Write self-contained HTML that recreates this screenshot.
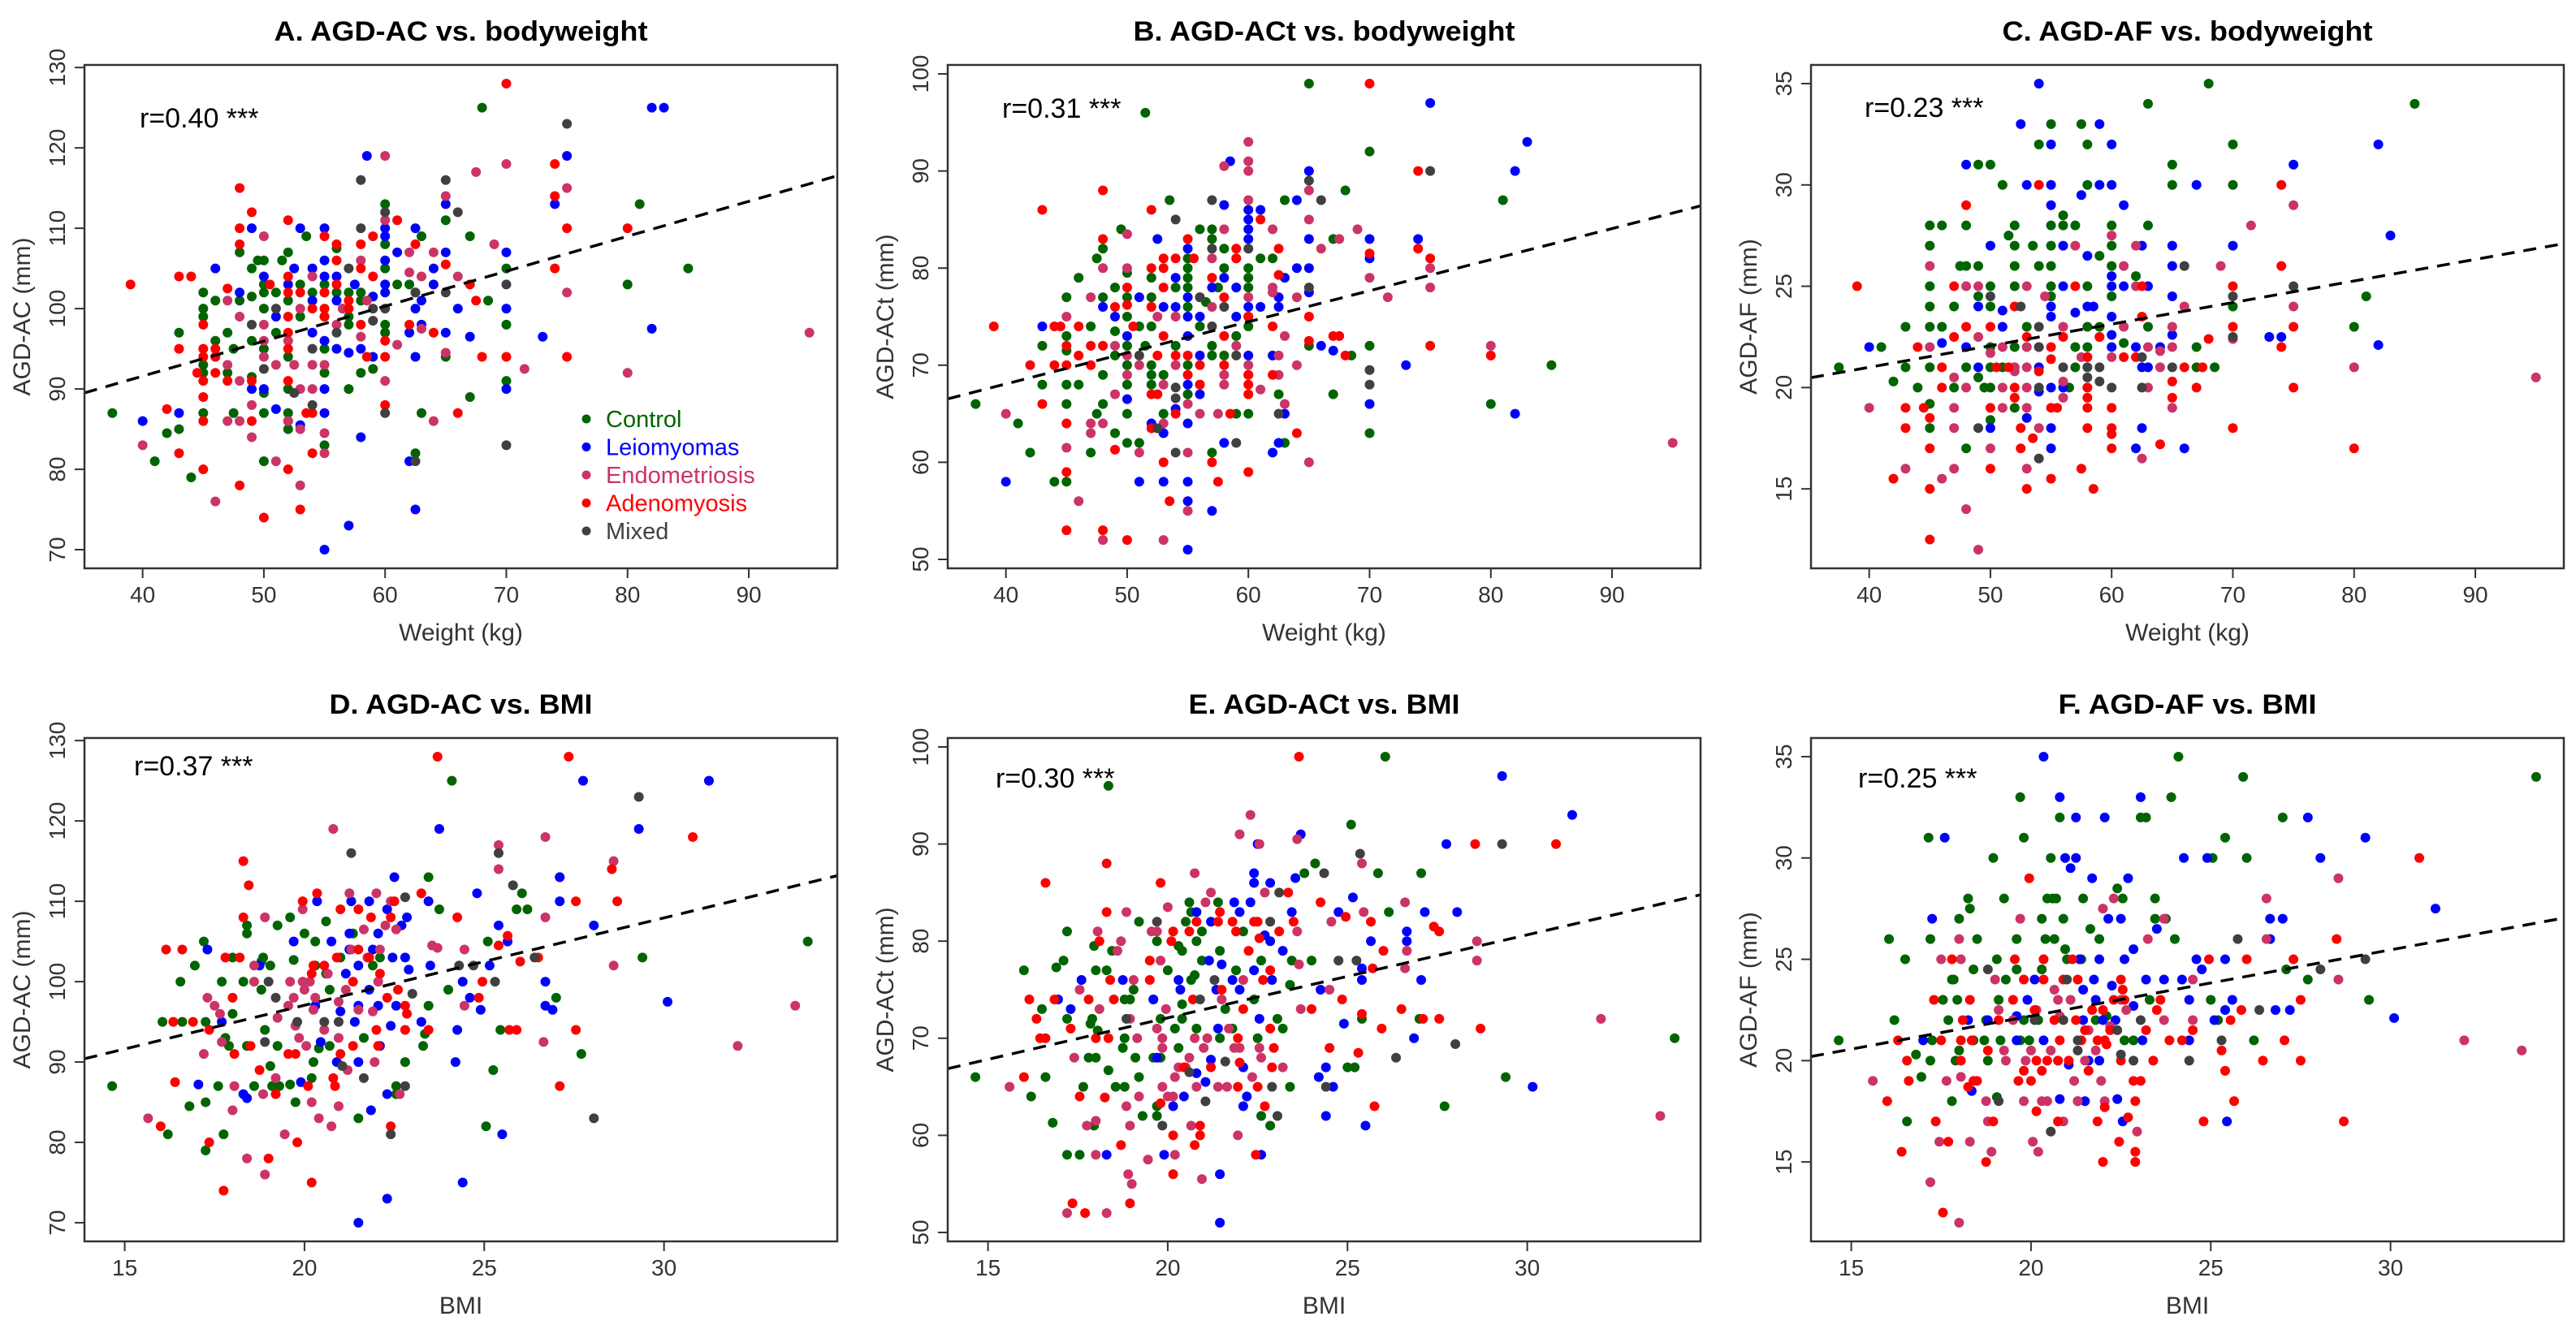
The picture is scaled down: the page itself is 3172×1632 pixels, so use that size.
<!DOCTYPE html>
<html><head><meta charset="utf-8">
<style>
html,body{margin:0;padding:0;background:#fff;}
svg{display:block;font-family:"Liberation Sans",Arial,sans-serif;}
</style></head>
<body>
<svg id="fig" width="3172" height="1632" viewBox="0 0 3172 1632" xmlns="http://www.w3.org/2000/svg"></svg>
<script>
// ---------- DATA ----------
const groupNames = ["Control","Leiomyomas","Endometriosis","Adenomyosis","Mixed"];
const groupColors = ["#006400","#0000ff","#cc3366","#ff0000","#404040"];

const weightTicks = [40,50,60,70,80,90];
const bmiTicks = [15,20,25,30];
const acTicks = [70,80,90,100,110,120,130];
const actTicks = [50,60,70,80,90,100];
const afTicks = [15,20,25,30,35];

const rLabels = ["r=0.40 ***","r=0.31 ***","r=0.23 ***","r=0.37 ***","r=0.30 ***","r=0.25 ***"];
const fitA=[74.2,0.435], fitB=[55.27,0.32], fitC=[16.74,0.1065], fitD=[75.3,1.088], fitE=[55.0,0.855], fitF=[15.67,0.3265];

// Panel A: weight vs AGD-AC
const aControl=[[37.5,87],[41,81],[42,84.5],[43,85],[43,97],[44,79],[45,102],[45,100],[45,99],[45,93],[45,92],[45,87],[46,101],[46,96],[47,97],[47,92],[47.5,87],[47.5,95],[48,107],[48,101],[49,105],[49,101.5],[49,96],[49,91.5],[49.5,106],[50,106],[50,103],[50,102],[50,100],[50,95],[50,89.5],[50,87],[50,81],[51,102],[51,97],[51.5,106],[52,107],[52,101],[52,94],[52,90],[52,87],[52,86],[52,85],[53,103],[53,99],[53.5,109],[54,102],[55,103],[55,102],[55,99],[55,95],[55,92],[55,83],[56,107.5],[56,102],[56.5,100],[57,102],[57,99],[57,98],[57,90],[58,102],[58,101],[58,92],[59,92.5],[60,113],[60,108],[60,105],[60,97],[60,98],[61,103],[62,103],[62.5,82],[63,109],[63,87],[65,111],[65,94],[67,109],[67,89],[68.5,101],[68,125],[70,105],[70,98],[70,91],[81,113],[85,105],[80,103]];
const aLeio=[[40,86],[43,87],[46,105],[48,102],[49,110],[49,90],[50,104],[50,90],[51,87.5],[51,99],[52,103],[52.5,105],[53,110],[53,85.5],[54,105],[54,101],[54,97],[55,110],[55,106],[55,104],[55,96],[55,90],[55,87],[55,70],[56,104],[56,101],[56,95],[57,73],[57,94.5],[57.5,103],[58,95],[58,84],[58.5,119],[59,101.5],[59,94],[60,110],[60,109],[60,106],[60,103],[60,102],[61,107],[62,81],[62,97],[62.5,110],[62.5,100],[62.5,94],[62.5,75],[63,101],[63,98],[64,103],[64,105],[65,113],[65,107],[65,97],[66,100],[67,96.5],[70,107],[70,100],[70,90],[73,96.5],[74,113],[75,119],[82,125],[83,125],[82,97.5]];
const aEndo=[[40,83],[46,76],[46,94],[47,101],[47,86],[47,93],[48,99],[48,86],[48,91],[49,88],[49,84],[50,109],[50,98],[50,96],[50,94],[51,81],[51,93],[52,86],[52,96],[52.5,93],[53,78],[53,90],[53,85],[53,100],[54,104],[54,93],[54,90],[55,82],[55,84.5],[55,93],[56,98],[56.5,100],[58,106],[58,96.5],[58.5,101],[60,119],[60,111],[60,91],[61,95.5],[62,107],[62,104.5],[63,104],[63,97.5],[64,86],[64,107],[65,114],[65,94.5],[66,104],[67.5,117],[69,108],[70,118],[71.5,92.5],[75,115],[75,102],[80,92],[95,97]];
const aAdeno=[[39,103],[42,87.5],[43,104],[43,95],[43,82],[44,104],[44.5,92],[45,98],[45,95],[45,94],[45,91],[45,89],[45,86],[45,80],[46,95],[46,94],[46,92],[47,102.5],[47,91],[48,115],[48,110],[48,108],[48,78],[49,112],[49,86],[49,91],[50,74],[50.5,103],[52,111],[52,104],[52,102],[52,99],[52,97],[52,95],[52,91],[52,80],[53,102],[53,75],[53.5,87],[54,100],[54,82],[54,87],[55,109],[55,100],[55,99],[55,102],[56,108],[56,106],[56,103],[57,101],[57,100],[58,108],[58,105],[58,98],[58.5,94],[59,109],[59,104],[60,94],[60,88],[60,96],[61,111],[62,98],[62.5,108],[62.5,102],[64,97],[65,105.5],[66,87],[67,103],[67.5,101],[68,94],[70,128],[70,94],[74,118],[74,114],[74,105],[75,110],[75,94],[80,110]];
const aMixed=[[49,98],[50,92.5],[51,100],[52.5,89.5],[54,95],[54,88],[56,97],[57,105],[58,116],[58,110],[59,100],[59,98.5],[60,100],[60,87],[60,112],[62.5,81],[62.5,102],[65,116],[65,102],[66,112],[70,103],[70,83],[75,123]];

// Panel B: weight vs AGD-ACt
const bControl=[[37.5,66],[41,64],[42,61],[44,58],[43,72],[43,68],[45,77],[45,73],[45,71.5],[45,68],[45,66],[45,58],[46,79],[46,68],[47,74],[47,61],[47.5,81],[47.5,65],[48,82],[48,77],[48,69],[48,66],[49,78],[49,73.5],[49,71],[49,63],[49.5,84],[50,79.5],[50,77],[50,75],[50,72],[50,70],[50,68],[50,65],[50,62],[51,74],[51,62],[51.5,72],[51.5,96],[52,77],[52,79],[52,74],[52,70],[52,69],[52,68],[53,69],[53,65],[53.5,87],[54,78],[54,72],[55,81],[55,80],[55,79],[55,78],[55,76],[55,70],[55,67],[56,84],[56,74],[56.5,76.5],[57,84],[57,83],[57,72],[57,71],[57,61],[57.5,78],[58,82],[58,80],[58,71],[59,73],[59,65],[60,80],[60,79],[60,78],[60,75],[60,74],[60,65],[61,81],[62,81],[62.5,67],[63,87],[63,62],[65,99],[65,72],[67,83],[67,67],[68,88],[68.5,71],[70,92],[70,72],[70,63],[80,66],[81,87],[85,70]];
const bLeio=[[40,58],[43,74],[48,76],[49,75],[50,73],[50,66.5],[51,77],[51,58],[52,64],[52.5,83],[53,76],[53,63],[53,58],[54,79],[54,76],[54,65.5],[55,82],[55,77],[55,75],[55,73],[55,68],[55,64],[55,58],[55,56],[55,51],[56,75],[56,71],[56,67],[57,55],[57,78],[58,79],[58,86.5],[58,62],[58.5,91],[59,78],[59,75],[60,86],[60,85],[60,84],[60,83],[60,76],[60,71],[61,86],[61,76],[62,71],[62,61],[62.5,77],[62.5,76],[62.5,62],[63,65],[63,79],[64,87],[64,80],[65,90],[65,83],[65,80],[65,77.5],[66,72],[67,71.5],[70,83],[70,81],[70,66],[73,70],[74,83],[75,97],[82,90],[82,65],[83,93]];
const bEndo=[[40,65],[45,75],[45,61.5],[46,56],[47,77],[47,64],[47,63],[48,80],[48,64],[48,52],[49,72],[49,67],[50,83.5],[50,80],[50,71],[50,69],[51,61],[51,70],[52,76],[52.5,75],[53,68],[53,64],[53,52],[54,75],[54,70],[55,61],[55,55],[55,66],[56,77],[56,65],[56,68],[57,81],[57,76],[57.5,65],[58,69],[58,68],[58,84],[58,90.5],[59,81],[59,72],[60,93],[60,91],[60,90],[60,87],[60,77],[60,70],[60,69],[61,67.5],[62,84],[62,78],[62,77.5],[62.5,71],[62.5,69],[63,66],[63,73],[64,77],[64,70],[65,88],[65,85],[65,60],[66,82],[67.5,83],[69,84],[70,79],[71.5,77],[75,80],[75,78],[80,72],[95,62]];
const bAdeno=[[39,74],[42,70],[43,86],[43,66],[44,74],[44,70],[44.5,74],[45,72],[45,70],[45,64],[45,59],[45,53],[46,74],[46,71],[47,72],[47,70],[48,88],[48,83],[48,72],[48,53],[49,76],[49,61.3],[50,78],[50,76.2],[50,52],[50.5,74],[52,86],[52,80],[52,76],[52,67],[52,63.5],[52.5,71],[52.5,67],[53,81],[53,80],[53,78],[53,73],[53,60],[53.5,56],[54,81],[54,71],[54,65],[55,83],[55,71],[55,69],[55.5,81],[56,70],[56,68],[57,79],[57,60],[57.5,58],[58,77],[58,73],[58,70],[59,82],[59,81],[58.5,65],[60,75],[60,69],[60,68],[60,67],[60,59],[61,85],[62,74],[62,69],[62.5,82],[62.5,79.3],[64,63],[65,75],[65,72.5],[67,73],[67.5,73],[68,71],[70,99],[70,81.5],[74,90],[74,82],[75,81],[75,72],[80,71]];
const bMixed=[[51,71],[52.5,63.5],[54,85],[54,67.7],[54,66.6],[54,61],[56,77],[57,87],[57,82],[57,74],[58,76],[59,71],[59,62],[60,82],[62.5,65],[65,89],[65,78],[66,87],[70,69.5],[70,68],[75,90]];

// Panel C: weight vs AGD-AF
const cControl=[[37.5,21],[41,22],[42,20.3],[43,23],[43,21],[44,20],[45,28],[45,27],[45,25],[45,24],[45,23],[45,21],[45,19.2],[45,18],[46,28],[46,23],[47,24],[47,20],[47.5,26],[48,28],[48,26],[48,21],[48,17],[49,31],[49,26],[49,24.5],[49,20.5],[49.5,20],[50,31],[50,25],[50,24],[50,22],[50,21],[50,20],[50,18.4],[51,30],[51,21],[51.5,27.5],[52,28],[52,27],[52,26],[52,25],[52,22],[52,21],[52,19],[53,23],[53,22],[53.5,27],[54,32],[54,26],[55,33],[55,28],[55,27],[55,26],[55,25],[55,24.5],[56,28.5],[56,28],[56.5,20],[57,28],[57,22],[57,21],[57.5,33],[58,32],[58,30],[58,25],[58,23],[58,22],[59,26.5],[59,23],[60,28],[60,27],[60,26],[60,24.5],[61,22.2],[62,25.5],[63,34],[63,28],[63,23],[65,31],[65,30],[67,22],[67,21],[68,35],[68.5,21],[70,32],[70,30],[70,24],[80,23],[81,24.5],[85,34]];
const cLeio=[[40,22],[46,22.2],[48,31],[48,22],[49,24],[49,21],[50,27],[50,18],[51,23],[51,23.8],[52.5,33],[53,30],[53,18.5],[54,35],[54,21],[54,19.8],[55,32],[55,30],[55,29],[55,24],[55,23.5],[55,20],[55,18],[55,17],[56,27],[56,25],[56,20],[57,23.7],[57.5,29.5],[58,26.5],[58,24],[58.5,24],[59,33],[59,30],[60,32],[60,30],[60,25],[60,25.5],[60,23.5],[60,22.6],[60,22],[61,29],[61,25],[62,22],[62.5,27],[62.5,21],[62.5,18],[63,25],[63,21],[62,17],[64,22],[65,26],[65,27],[65,24.5],[65,22.6],[66,17],[67,30],[70,27],[73,22.5],[74,22.5],[75,31],[82,32],[82,22.1],[83,27.5]];
const cEndo=[[40,19],[43,16],[45,26],[45,22],[46,15.5],[47,20.5],[47,19],[47,18],[47,16],[48,25],[48,20],[48,14],[49,22.5],[49,25],[49,12],[50,21.7],[50,17],[51,22],[51,20],[51,19],[52,21],[52,20.8],[53,25],[53,22],[53,21],[53,20],[53,19],[53,16],[54,22],[54,18],[54.5,24.5],[56,23],[56,20.3],[56,19.5],[57,27],[57.5,21.5],[58,20],[58,21.5],[59,22.5],[60,27.5],[60,21.5],[61,26],[61,23],[62,27],[62,25],[62.5,16.5],[63,22],[63,20],[64,21.8],[64,21],[65,23],[65,22],[65,19],[66,24],[69,26],[70,22.4],[71.5,28],[75,29],[75,24],[80,21],[95,20.5]];
const cAdeno=[[39,25],[42,15.5],[43,19],[43,18],[44,22],[44.5,19],[45,18.5],[45,17],[45,15],[45,12.5],[46,21],[46,20],[47,25],[47,22.5],[48,29],[48,23],[50,23],[50,19],[50,16],[50.5,21],[51.5,21],[52,24],[52,20],[52,19.5],[52.5,18],[52.5,17],[53,22.5],[53,15],[53.5,17.5],[54,30],[54,20.8],[55,22],[55,21.4],[55,19],[55,15.5],[55.5,19],[56,22.5],[57,25],[57.5,16],[58,21.5],[58,20],[58,19.5],[58,19],[58,18],[58.5,15],[59,22.5],[60,19],[60,18],[60,17.7],[60,17],[61,21.5],[62,21.5],[62.5,25],[62.5,23.5],[64,17.2],[65,20.3],[65,19.5],[66,21],[67,20],[67.5,21],[68,22.4],[70,25],[70,23],[70,18],[74,30],[74,26],[74,22],[75,23],[75,20],[80,17]];
const cMixed=[[49,18],[50,24.5],[52.5,24],[54,23],[54,22],[54,16.5],[54,20],[56,21],[58,21],[58,20.5],[59,21],[59,20.3],[60,20],[62.5,21.5],[62.5,20],[65,21],[66,26],[70,24.5],[70,22.5],[75,25]];

// Panel D: BMI vs AGD-AC
const dControl=[[14.65,87],[16.05,95],[16.2,81],[16.55,100],[16.6,95],[16.8,84.5],[16.95,102],[17.2,105],[17.25,85],[17.25,79],[17.25,95],[17.6,87],[17.7,100],[17.75,81],[17.8,93],[17.9,92],[18,103],[18,96],[18.3,100],[18.4,106],[18.4,107],[18.4,92],[18.6,87],[18.8,102.5],[18.8,99],[18.85,103],[18.9,94],[19.05,89.5],[19.05,102],[19.1,87],[19.25,107],[19.25,92],[19.3,87],[19.6,87.2],[19.6,108],[19.7,102.7],[19.75,85],[20,106],[20.2,88],[20.25,90],[20.3,105],[20.3,102],[20.4,91.7],[20.6,107.5],[20.6,101],[20.7,92],[20.7,99],[21,103],[21.35,106],[21.5,83],[21.65,93],[21.9,102],[22.1,103],[22.55,87],[22.55,86],[22.8,90],[23.3,92],[23.35,93.5],[23.45,113],[23.45,97],[23.75,109],[24,99],[24.1,125],[25.05,82],[25.1,105],[25.25,89],[25.45,94],[25.9,109],[26.05,111],[26.2,109],[27,98],[27.1,113],[27.7,91],[29.4,103],[34,105]];
const dLeio=[[17.05,87.2],[17.3,104],[17.7,95],[18.3,86],[18.4,85.5],[18.75,102],[19.7,105],[19.9,87.5],[20.3,97],[20.35,110],[20.45,92.5],[20.75,105],[20.9,90],[21,96.3],[21.15,101],[21.25,106],[21.25,104],[21.3,110],[21.4,95],[21.5,90],[21.5,70],[21.5,102],[21.5,97],[21.8,99],[21.85,84],[21.9,104],[21.8,110],[22.05,106],[22.05,97],[22.1,92],[22.3,86],[22.3,73],[22.3,109],[22.4,94.5],[22.45,103],[22.5,113],[22.55,97],[22.7,107],[22.8,103],[22.85,108],[22.9,101.5],[23.25,95],[23.45,110],[23.5,102],[23.75,119],[24.2,90],[24.25,94],[24.4,100],[24.4,75],[24.6,98],[24.8,111],[24.9,96.5],[25.15,102],[25.4,107],[25.5,81],[25.65,105],[26.7,100],[26.7,97],[26.9,96.5],[27.1,113],[27.1,110],[27.75,125],[28.05,107],[29.3,119],[30.1,97.5],[31.25,125]];
const dEndo=[[15.65,83],[17.2,91],[17.3,98],[17.5,97],[17.65,96],[17.7,92.5],[18,84],[18.05,87],[18.4,78],[18.6,102],[18.6,100],[18.85,86],[18.9,108],[18.9,76],[19.2,88],[19.25,95.5],[19.45,81],[19.55,97],[19.6,100],[19.7,98],[19.75,94.5],[19.85,93],[19.95,100],[19.95,109],[20,99],[20.05,92],[20.15,100],[20.2,85],[20.25,96.5],[20.3,98],[20.4,83],[20.55,94],[20.65,101],[20.75,82],[20.8,119],[20.95,84.5],[20.95,93],[20.95,97.5],[21.15,99],[21.2,89],[21.25,111],[21.3,104],[21.5,96.5],[21.65,106.5],[21.75,103],[21.9,96.3],[21.95,90],[22,111],[22.05,100],[22.1,104],[22.25,107],[22.4,110],[22.55,106.5],[22.65,86],[23.55,104.5],[23.7,104.2],[24.45,104],[24.45,97],[25.4,117],[25.4,114],[26.65,92.5],[26.7,108],[26.7,118],[28.6,115],[28.6,102],[32.05,92],[33.65,97]];
const dAdeno=[[16,82],[16.15,104],[16.35,95],[16.4,87.5],[16.6,104],[16.9,95],[17.35,80],[17.35,94],[17.75,74],[17.8,103],[18,98],[18.05,91],[18.2,103],[18.3,108],[18.3,115],[18.45,112],[18.5,92],[18.75,89],[19,78],[19.2,86],[19.55,91],[19.75,91],[19.8,80],[19.95,110],[20.1,87],[20.2,75],[20.2,101],[20.25,102],[20.35,111],[20.55,102],[20.8,88],[20.85,87],[20.9,103],[21,109],[21,91],[21.35,92],[21.35,100],[21.5,104],[21.5,109],[21.85,108],[21.8,103],[22,94],[22.05,92],[22.1,101],[22.3,98],[22.4,82],[22.4,108],[22.5,110],[22.6,99],[22.8,97],[22.8,94],[22.85,96],[23.25,111],[23.45,94],[23.7,128],[24.25,108],[24.85,98],[24.95,100],[25.4,104.5],[25.65,105.7],[25.7,94],[25.9,94],[26,102.5],[26.5,103],[27.1,87],[27.35,128],[27.55,94],[27.55,110],[28.55,114],[28.7,110],[30.8,118]];
const dMixed=[[18.9,92.5],[19,100],[19.2,98],[19.8,95],[20.55,95],[20.95,95],[21.05,89.5],[21.3,116],[21.65,88],[22.4,81],[22.8,87],[22.8,110.5],[23,98.5],[24.3,102],[24.7,102],[25.3,100],[25.4,116],[25.8,112],[26.4,103],[28.05,83],[29.3,123]];

// Panel E: BMI vs AGD-ACt
const eControl=[[14.65,66],[16,77],[16.2,64],[16.5,73],[16.6,66],[16.8,61.3],[16.9,77.3],[17.1,78],[17.2,81],[17.2,72],[17.2,58],[17.55,58],[17.65,65],[17.8,68],[17.85,71.5],[17.9,72],[17.95,79.5],[17.95,61],[18,68],[18,77],[18.05,70.8],[18.3,77],[18.35,66.7],[18.35,96],[18.45,79],[18.55,65],[18.75,69],[18.8,65],[18.8,74],[18.8,70],[18.95,74],[19.05,75],[19.1,68],[19.2,82],[19.2,66],[19.3,62],[19.6,74],[19.6,68],[19.7,63],[19.7,62],[19.7,80],[19.8,68],[19.8,72],[20,77],[20.2,71],[20.3,79.5],[20.3,69],[20.4,79],[20.4,73.5],[20.4,72],[20.5,82],[20.6,84],[20.65,76],[20.65,83],[20.75,76.5],[20.8,80],[20.8,71],[20.95,81],[20.95,78],[21.4,84],[21.45,79],[21.45,70],[21.6,73],[21.8,71],[21.9,77],[22.1,81],[22.4,74],[22.5,70],[22.6,78],[22.6,62],[22.85,61],[23.05,72],[23.2,71],[23.4,75.5],[23.4,65],[23.45,78],[23.8,87],[24,78],[24.1,88],[25.1,92],[25,67],[25.2,67],[25.4,72],[25.85,87],[26.05,99],[26.15,83],[27.05,87],[27,72],[27.7,63],[29.4,66],[34.1,70]];
const eLeio=[[16.95,74],[17.3,73],[17.6,76],[18.3,58],[18.75,76],[19.6,74],[19.7,68],[19.9,58],[20.15,63],[20.3,76],[20.35,75],[20.45,64],[20.8,66.4],[20.8,83],[21.05,65.5],[21.15,78],[21.2,67.8],[21.2,82],[21.35,75],[21.4,71],[21.45,56],[21.45,51],[21.5,77.6],[21.8,76],[21.85,84],[22,83],[22,75],[22.1,67],[22.1,63],[22.2,64],[22.3,84],[22.4,87],[22.4,86],[22.4,77],[22.5,90],[22.55,72],[22.6,58],[22.7,80.6],[22.85,80],[22.85,86],[22.9,76],[23.2,79],[23.45,83],[23.55,86.5],[23.7,91],[24.2,66],[24.4,67],[24.4,62],[24.6,65],[24.25,75],[24.75,83],[24.9,71.5],[25.15,84.5],[25.4,77.2],[25.4,76],[25.5,61],[25.65,80],[26.65,81],[26.65,80],[26.85,70],[27.05,76],[27.15,83],[27.75,90],[28.05,83],[29.3,97],[30.15,65],[31.25,93]];
const eEndo=[[15.6,65],[17.2,52],[17.4,68],[17.55,75],[17.75,61],[18,58],[18,61.5],[18.05,81],[18.1,73],[18.3,52],[18.6,79],[18.7,80],[18.85,83],[18.85,63],[18.9,56],[18.95,72],[18.95,61],[19,55],[19.05,76],[19.15,70],[19.2,64],[19.45,57.5],[19.55,81],[19.7,81],[19.7,71],[19.8,78],[19.85,70],[19.85,65],[19.85,69],[19.95,73],[20,83.5],[20,64],[20.15,64],[20.2,58],[20.2,66],[20.3,67],[20.5,67],[20.6,68],[20.65,61],[20.75,87],[20.75,70],[20.8,65],[20.95,55.5],[21,69],[21.05,84],[21.1,70],[21.2,85],[21.4,65],[21.5,74],[21.65,65],[21.7,71],[21.85,69],[21.95,60],[22,91],[22,69],[22.1,76],[22.3,93],[22.35,66],[22.55,90],[22.55,69],[22.6,68],[22.7,85],[23.2,67],[23.6,81],[23.65,77.6],[23.6,90.5],[23.7,73],[24.5,75],[24.55,82],[25.4,88],[25.45,83],[26.6,84],[26.65,79],[26.6,77.2],[28.6,80],[28.6,78],[32.05,72],[33.7,62]];
const eAdeno=[[16,66],[16.15,74],[16.35,72],[16.45,70],[16.6,86],[16.6,70],[16.85,74],[17.3,71],[17.35,53],[17.55,64],[17.7,52],[17.8,74],[18,70],[18.1,80],[18.25,63.9],[18.3,83],[18.3,88],[18.35,70],[18.4,76],[18.5,74],[18.7,59],[18.95,53],[19.5,78],[19.5,76],[19.8,86],[19.8,63.3],[20.1,80],[20.15,81],[20.15,60],[20.15,56],[20.45,67],[20.6,81],[20.7,74],[20.75,59],[20.8,82],[20.9,61],[20.9,60],[21.2,67],[21.4,82],[21.45,83],[21.5,75],[21.8,82],[21.9,81],[21.95,70],[21.95,65],[22,67.5],[22.1,73],[22.25,79],[22.4,82],[22.5,65],[22.5,82],[22.45,58],[22.55,80.3],[22.65,76],[22.7,63],[22.85,77],[22.85,71],[22.9,67],[22.95,69],[23.1,81],[23.35,85],[23.5,82],[23.65,99],[24,73],[24.25,84],[24.5,69],[24.85,74],[24.95,82.5],[25.3,68.5],[25.4,72.5],[25.65,82],[25.75,63],[25.7,77.2],[25.95,71],[26,79],[26.5,73],[27.1,72],[27.4,81.5],[27.55,81],[27.55,72],[28.55,90],[28.7,71],[30.8,90]];
const eMixed=[[18.85,72],[19.7,82],[19.85,61],[20.6,66.5],[20.9,74],[21.05,63.5],[21.3,76],[21.6,67.6],[22.85,82],[22.9,65],[23.05,62],[23.1,85],[24.35,87],[24.4,65],[24.75,78],[25.25,78],[25.35,89],[26.35,68],[28,69.4],[29.3,90]];

// Panel F: BMI vs AGD-AF
const fControl=[[14.65,21],[16.05,26],[16.2,22],[16.5,25],[16.55,17],[16.8,20.3],[16.95,19.2],[17.15,31],[17.2,26],[17.2,20],[17.25,21],[17.55,23],[17.7,22],[17.8,24],[17.8,18],[17.85,24],[17.95,23],[18,27],[18,20.5],[17.9,20],[18.25,28],[18.3,27.5],[18.4,24.5],[18.4,21],[18.5,26],[18.7,21],[18.75,22],[18.8,20],[18.95,30],[19.05,25],[19.05,18.2],[19.1,23],[19.15,21],[19.25,28],[19.3,24],[19.6,26],[19.6,24.5],[19.7,33],[19.7,21],[19.8,31],[19.8,22],[19.95,21],[20.2,22],[20.3,27],[20.3,24.5],[20.4,26],[20.45,28],[20.55,30],[20.6,28],[20.65,26],[20.7,28],[20.75,20],[20.8,32],[20.9,27],[20.95,25.5],[21,25],[21.4,25],[21.45,28],[21.65,26.5],[21.8,22],[21.9,26],[22.1,22.2],[22.4,28.5],[22.55,28],[22.6,21],[22.85,21],[23.05,32],[23.2,32],[23.3,23],[23.45,28],[23.45,27],[23.75,27],[23.9,33],[24,26],[24.1,35],[25,23],[25.05,30],[25.2,22],[25.4,31],[25.9,34],[26,30],[26.2,21],[27,32],[27.1,24.5],[27.7,24],[29.4,23],[34.05,34]];
const fLeio=[[17,21],[17.25,27],[17.6,31],[18.25,22],[18.35,18.5],[18.8,22],[19.6,21],[19.6,22.2],[19.9,23],[20.1,24],[20.35,35],[20.35,21],[20.8,33],[20.8,18.1],[20.95,30],[21.1,29.5],[21.05,19.8],[21.25,32],[21.25,30],[21.3,18],[21.35,25],[21.45,23.5],[21.45,22],[21.5,18],[21.6,20],[21.7,29],[21.75,24],[21.8,23],[21.9,25],[21.9,20],[22,22],[22.05,32],[22.15,27],[22.25,23.7],[22.35,22],[22.4,18.1],[22.5,27],[22.55,17],[22.6,25],[22.7,29],[22.85,25.5],[22.85,22.7],[23.05,33],[23.1,21],[23.2,24],[23.5,26.5],[23.7,24],[24.2,24],[24.25,30],[24.4,23],[24.4,21],[24.6,25],[24.75,24.5],[24.9,30],[25.1,22],[25.4,25],[25.4,22.5],[25.45,17],[25.6,23],[26.65,26],[26.65,27],[26.8,22.5],[27,27],[27.2,22.5],[27.7,32],[28.05,30],[29.3,31],[30.1,22.1],[31.25,27.5]];
const fEndo=[[15.6,19],[17.2,14],[17.45,16],[17.5,25],[17.65,19],[18,12],[18,26],[18.05,25],[18.05,19.2],[18.3,16],[18.75,18],[18.8,17],[18.9,15.5],[19,24],[19.1,22.5],[19.25,20.5],[19.3,20],[19.5,22],[19.7,27],[19.8,18],[19.85,20],[20,20.5],[20.05,16],[20.15,22.5],[20.2,15.5],[20.3,18],[20.35,25],[20.45,18],[20.55,20.5],[20.65,23.5],[20.75,23],[20.8,22.2],[20.9,17],[21.1,23],[21.2,19],[21.3,18],[21.5,20],[21.6,21.5],[21.8,20.5],[21.95,19],[22,27.5],[22.05,18],[22.2,21.7],[22.3,28],[22.5,23],[22.65,22.5],[22.95,16.5],[23.25,26],[23.7,22],[23.7,27],[24.5,24],[24.5,22],[26.55,26],[26.55,28],[28.55,29],[28.55,24],[32.05,21],[33.65,20.5]];
const fAdeno=[[16,18],[16.3,21],[16.4,15.5],[16.55,20],[16.6,19],[17.3,23],[17.35,17],[17.5,21],[17.7,16],[17.55,12.5],[17.8,25],[18.05,21],[18.05,20],[18.1,22],[18.25,18.7],[18.3,23],[18.35,21],[18.4,19],[18.5,19],[18.75,15],[18.8,20.5],[18.95,17],[19.1,22],[19.5,23],[19.55,25],[19.65,19],[19.8,19.5],[19.8,24],[19.95,29],[20,19],[20.15,17.5],[20.15,20],[20.1,22.5],[20.3,19.5],[20.35,24],[20.35,25],[20.45,20],[20.65,22],[20.75,20],[20.8,21],[20.75,17],[20.9,24],[21.05,20],[21.15,25],[21.25,22],[21.3,24],[21.4,21],[21.5,21.5],[21.6,19.5],[21.7,22.5],[21.85,17],[21.85,21],[22,15],[22,22.5],[22.05,17.7],[22.05,21],[22.1,20.8],[22.2,21.5],[22.3,23],[22.45,16],[22.5,20],[22.5,24],[22.55,23.5],[22.6,23],[22.7,17.2],[22.9,15.5],[22.9,15],[22.85,19],[22.9,18],[23.05,19],[23.2,21.5],[23.4,20],[23.5,22.5],[23.6,23],[23.85,21],[24.2,21],[24.5,21.5],[24.8,17],[24.95,25],[25.3,20.5],[25.4,19.5],[25.55,22],[25.65,18],[25.85,22.5],[26,25],[26.45,20],[27.05,21],[27.5,20],[27.5,23],[27.3,25],[28.5,26],[28.7,17],[30.8,30]];
const fMixed=[[18.8,24.5],[19.1,18],[20.1,22],[20.55,16.5],[20.9,22],[21,24],[21.3,20.5],[21.3,21],[22.4,21.5],[22.5,20.3],[22.85,20],[23.05,22],[24.4,20],[25.3,21],[25.75,26],[26.35,22.5],[28.05,24.5],[29.3,25]];

// ---------- DRAWING ----------
const NS="http://www.w3.org/2000/svg";
const svg=document.getElementById('fig');
function mk(tag,attrs,parent){const e=document.createElementNS(NS,tag);for(const k in attrs)e.setAttribute(k,attrs[k]);(parent||svg).appendChild(e);return e;}

const W=927,H=620;
const panels=[
 {id:'a',title:'A. AGD-AC vs. bodyweight',tl:460,left:104,top:80,xd:[35.2,97.3],yd:[67.68,130.32],xt:weightTicks,yt:acTicks,xl:'Weight (kg)',yl:'AGD-AC (mm)',groups:[aControl,aLeio,aEndo,aAdeno,aMixed],fit:fitA,r:rLabels[0],rx:68,ry:157,legend:true},
 {id:'b',title:'B. AGD-ACt vs. bodyweight',tl:470,left:1167,top:80,xd:[35.2,97.3],yd:[49.08,100.92],xt:weightTicks,yt:actTicks,xl:'Weight (kg)',yl:'AGD-ACt (mm)',groups:[bControl,bLeio,bEndo,bAdeno,bMixed],fit:fitB,r:rLabels[1],rx:67,ry:145},
 {id:'c',title:'C. AGD-AF vs. bodyweight',tl:456,left:2230,top:80,xd:[35.2,97.3],yd:[11.08,35.92],xt:weightTicks,yt:afTicks,xl:'Weight (kg)',yl:'AGD-AF (mm)',groups:[cControl,cLeio,cEndo,cAdeno,cMixed],fit:fitC,r:rLabels[2],rx:66,ry:144},
 {id:'d',title:'D. AGD-AC vs. BMI',tl:324,left:104,top:909,xd:[13.88,34.82],yd:[67.68,130.32],xt:bmiTicks,yt:acTicks,xl:'BMI',yl:'AGD-AC (mm)',groups:[dControl,dLeio,dEndo,dAdeno,dMixed],fit:fitD,r:rLabels[3],rx:61,ry:955},
 {id:'e',title:'E. AGD-ACt vs. BMI',tl:334,left:1167,top:909,xd:[13.88,34.82],yd:[49.08,100.92],xt:bmiTicks,yt:actTicks,xl:'BMI',yl:'AGD-ACt (mm)',groups:[eControl,eLeio,eEndo,eAdeno,eMixed],fit:fitE,r:rLabels[4],rx:59,ry:970},
 {id:'f',title:'F. AGD-AF vs. BMI',tl:318,left:2230,top:909,xd:[13.88,34.82],yd:[11.08,35.92],xt:bmiTicks,yt:afTicks,xl:'BMI',yl:'AGD-AF (mm)',groups:[fControl,fLeio,fEndo,fAdeno,fMixed],fit:fitF,r:rLabels[5],rx:58,ry:970}
];

panels.forEach(p=>{
  const g=mk('g',{});
  
  
  const sx=v=>p.left+(v-p.xd[0])/(p.xd[1]-p.xd[0])*W;
  const sy=v=>p.top+H-(v-p.yd[0])/(p.yd[1]-p.yd[0])*H;
  const bottom=p.top+H;

  const t=mk('text',{x:p.left+W/2,y:p.top-30,'text-anchor':'middle','font-size':34,'font-weight':'bold',fill:'#000',textLength:p.tl,lengthAdjust:'spacingAndGlyphs'},g);
  t.textContent=p.title;
  
  

  const cp=mk('clipPath',{id:'clip'+p.id},g);
  mk('rect',{x:p.left,y:p.top,width:W,height:H},cp);

  // x ticks
  p.xt.forEach(v=>{
    const x=sx(v);
    const tk=mk('line',{x1:x,x2:x,y1:bottom,y2:bottom+12,stroke:'#333','stroke-width':2},g);
    
    
    const tl=mk('text',{x:x,y:bottom+42,'text-anchor':'middle','font-size':28,fill:'#333'},g);
    tl.textContent=v;
    
    
  });
  // y ticks
  p.yt.forEach(v=>{
    const y=sy(v);
    const tk=mk('line',{x1:p.left-12,x2:p.left,y1:y,y2:y,stroke:'#333','stroke-width':2},g);
    
    
    const tl=mk('text',{x:0,y:0,'text-anchor':'middle','font-size':28,fill:'#333',transform:`translate(${p.left-24},${y}) rotate(-90)`},g);
    tl.textContent=v;
    
    
  });
  const xl=mk('text',{x:p.left+W/2,y:bottom+89,'text-anchor':'middle','font-size':30,fill:'#333'},g);
  xl.textContent=p.xl;
  
  
  const yl=mk('text',{x:0,y:0,'text-anchor':'middle','font-size':30,fill:'#333',transform:`translate(${p.left-67},${p.top+H/2}) rotate(-90)`},g);
  yl.textContent=p.yl;
  
  

  // points
  p.groups.forEach((arr,gi)=>{
    const sg=mk('g',{fill:groupColors[gi]},g);
    
    
    arr.forEach(pt=>{
      const c=mk('ellipse',{cx:sx(pt[0]),cy:sy(pt[1]),rx:6,ry:6},sg);
      
      
    });
  });

  // regression line
  const x0=p.xd[0],x1=p.xd[1];
  const ln=mk('line',{x1:sx(x0),y1:sy(p.fit[0]+p.fit[1]*x0),x2:sx(x1),y2:sy(p.fit[0]+p.fit[1]*x1),stroke:'#000','stroke-width':3.5,'stroke-dasharray':'16 11','clip-path':`url(#clip${p.id})`},g);
  
  

  // frame
  const fr=mk('rect',{x:p.left,y:p.top,width:W,height:H,fill:'none',stroke:'#333','stroke-width':2.5},g);
  
  

  const rt=mk('text',{x:p.left+p.rx,y:p.ry,'font-size':34,fill:'#000'},g);
  rt.textContent=p.r;
  
  

  if(p.legend){
    const lg=mk('g',{},g);
    
    
    groupNames.forEach((n,i)=>{
      const cy=516+i*34.5;
      const e=mk('g',{},lg);
      
      
      mk('ellipse',{cx:722,cy:cy,rx:5.5,ry:5.5,fill:groupColors[i]},e);
      const tx=mk('text',{x:746,y:cy+10,'font-size':29,fill:groupColors[i]},e);
      tx.textContent=n;
    });
  }
});
</script>
</body></html>
